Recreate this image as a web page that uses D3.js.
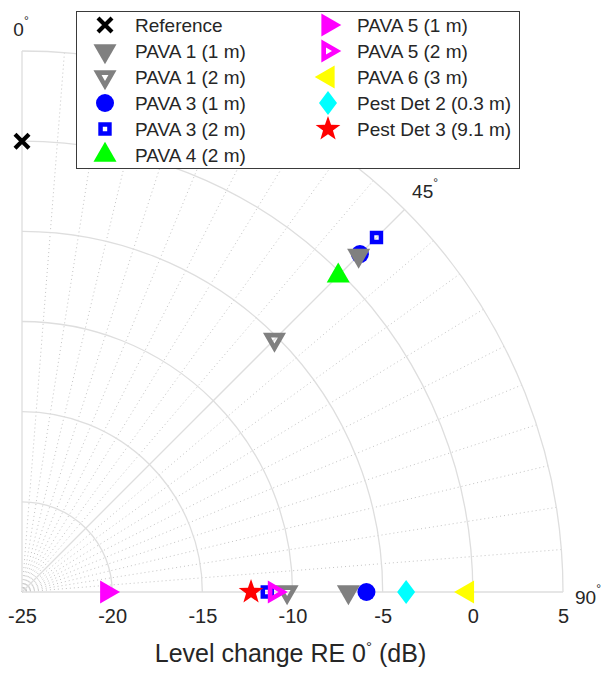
<!DOCTYPE html>
<html>
<head>
<meta charset="utf-8">
<script src="https://cdn.jsdelivr.net/npm/d3@7"></script>
<style>
  body { margin: 0; background: #fff; }
  svg { display: block; font-family: "Liberation Sans", Arial, sans-serif; }
</style>
</head>
<body>
<div id="wrapper"></div>
<script>
// series, in legend order
const seriesNames = ["Reference", "PAVA 1 (1 m)", "PAVA 1 (2 m)", "PAVA 3 (1 m)", "PAVA 3 (2 m)",
  "PAVA 4 (2 m)", "PAVA 5 (1 m)", "PAVA 5 (2 m)", "PAVA 6 (3 m)", "Pest Det 2 (0.3 m)", "Pest Det 3 (9.1 m)"]
// angle (deg) and level change (dB) for each series
const seriesAngles = [[0], [45, 90], [45, 90], [45, 90], [45, 90], [45], [90], [90], [90], [90], [90]]
const seriesLevels = [[0], [1.4, -6.9], [-5.2, -10.3], [1.5, -5.9], [2.8, -11.4], [-0.2], [-20.3], [-11.0], [-0.3], [-3.7], [-12.3]]
const seriesMarkers = ["x", "triDown", "triDownOpen", "circle", "squareOpen", "triUp", "triRight", "triRightOpen", "triLeft", "diamond", "star"]
const seriesColors = ["#000000", "#808080", "#808080", "#0000ff", "#0000ff", "#00ff00", "#ff00ff", "#ff00ff", "#ffff00", "#00ffff", "#ff0000"]

const radialTicks = [-25, -20, -15, -10, -5, 0, 5]
const angleTicks = [0, 45, 90]

const width = 603
const height = 675
const cx = 22
const cy = 592
const rMax = 541

const svg = d3.select("#wrapper").append("svg")
  .attr("width", width)
  .attr("height", height)

const rScale = d3.scaleLinear().domain([-25, 5]).range([0, rMax])
const aScale = d3.scaleLinear().domain([0, 90]).range([0, Math.PI / 2])
const xScale = d3.scaleLinear().domain([-25, 5]).range([cx, cx + rMax])

const polar = (deg, r) => [cx + r * Math.sin(aScale(deg)), cy - r * Math.cos(aScale(deg))]

const textColor = "#262626"
const gridColor = "#dedede"

// grid
const grid = svg.append("g")

// dotted spokes every 4.5 deg
const minorAngles = d3.range(0, 90.001, 4.5).filter(a => a % 45 !== 0)
grid.selectAll("line.minor")
  .data(minorAngles)
  .join("line")
  .attr("class", "minor")
  .attr("x1", cx).attr("y1", cy)
  .attr("x2", d => polar(d, rMax)[0])
  .attr("y2", d => polar(d, rMax)[1])
  .attr("stroke", "#c4c4c4")
  .attr("stroke-width", 1)
  .attr("stroke-dasharray", "1 3")

grid.selectAll("line.major")
  .data(angleTicks)
  .join("line")
  .attr("class", "major")
  .attr("x1", cx).attr("y1", cy)
  .attr("x2", d => polar(d, rMax)[0])
  .attr("y2", d => polar(d, rMax)[1])
  .attr("stroke", gridColor)
  .attr("stroke-width", 1.3)

grid.selectAll("path.ring")
  .data(radialTicks.slice(1))
  .join("path")
  .attr("class", "ring")
  .attr("d", d => {
    const p = d3.path()
    const r = rScale(d)
    p.moveTo(cx, cy - r)
    p.arc(cx, cy, r, -Math.PI / 2, 0)
    return p.toString()
  })
  .attr("fill", "none")
  .attr("stroke", gridColor)
  .attr("stroke-width", 1.3)

// angle labels
const angleLabelOffsets = { 0: [-1, 0], 45: [5, -3], 90: [3, 5] }
const angleLabels = svg.append("g")
  .selectAll("text")
  .data(angleTicks)
  .join("text")
  .attr("x", d => polar(d, rMax + 22)[0] + angleLabelOffsets[d][0])
  .attr("y", d => polar(d, rMax + 22)[1] + angleLabelOffsets[d][1])
  .attr("text-anchor", "middle")
  .attr("dominant-baseline", "central")
  .attr("fill", textColor)
  .style("font-size", "19px")
angleLabels.append("tspan").text(d => d)
angleLabels.append("tspan").text("°")
  .attr("dy", -8)
  .style("font-size", "12px")

// radial axis along the bottom
const xAxis = svg.append("g")
  .attr("transform", `translate(0, ${cy})`)
  .call(d3.axisBottom(xScale).tickValues(radialTicks).tickSize(0).tickPadding(17).tickFormat(d => String(d)))
xAxis.select(".domain").remove()
xAxis.selectAll("text")
  .attr("fill", textColor)
  .style("font-size", "20px")
  .style("font-family", "'Liberation Sans', Arial, sans-serif")

const axisLabel = svg.append("text")
  .attr("x", (cx + cx + rMax) / 2 - 2)
  .attr("y", 662)
  .attr("text-anchor", "middle")
  .attr("fill", textColor)
  .style("font-size", "25px")
axisLabel.append("tspan").text("Level change RE 0")
axisLabel.append("tspan").text("°").attr("dy", -10).style("font-size", "15px")
axisLabel.append("tspan").text(" (dB)").attr("dy", 10)

// marker shapes
const triPts = (R, rot) => d3.range(3).map(i => {
  const t = rot + i * 2 * Math.PI / 3
  return [R * Math.sin(t), -R * Math.cos(t)]
})
const poly = pts => "M" + pts.map(p => p[0].toFixed(2) + "," + p[1].toFixed(2)).join("L") + "Z"

const markerPath = type => {
  const R = 13.3
  switch (type) {
    case "x": return "M-7,-7L7,7M-7,7L7,-7"
    case "triDown": return poly(triPts(R, Math.PI))
    case "triDownOpen": return poly(triPts(R, Math.PI)) + poly(triPts(4, Math.PI))
    case "triUp": return poly(triPts(R, 0))
    case "triRight": return poly(triPts(R, Math.PI / 2))
    case "triRightOpen": return poly(triPts(R, Math.PI / 2)) + poly(triPts(4, Math.PI / 2))
    case "triLeft": return poly(triPts(R, -Math.PI / 2))
    case "circle": return "M9,0A9,9 0 1,1 -9,0A9,9 0 1,1 9,0Z"
    case "squareOpen": return "M-6.7,-6.7H6.7V6.7H-6.7Z M-2.2,-2.2H2.2V2.2H-2.2Z"
    case "diamond": return "M0,-12L9,0L0,12L-9,0Z"
    case "star": return poly(d3.range(10).map(i => {
      const r = i % 2 === 0 ? 13 : 5.2
      const t = i * Math.PI / 5
      return [r * Math.sin(t), -r * Math.cos(t)]
    }))
  }
}

const drawMarker = (sel, i) => {
  const type = seriesMarkers[i]
  if (type === "x") {
    sel.append("path").attr("d", markerPath(type))
      .attr("fill", "none").attr("stroke", seriesColors[i]).attr("stroke-width", 4.2)
  } else {
    sel.append("path").attr("d", markerPath(type))
      .attr("fill", seriesColors[i]).attr("fill-rule", "evenodd")
  }
}

// data points: 45 deg group is stacked in reverse order (as in the original figure)
const pointList = []
seriesNames.forEach((name, i) => {
  seriesAngles[i].forEach((a, j) => pointList.push({ i, a, v: seriesLevels[i][j] }))
})
const stackKey = p => p.a === 45 ? 100 - p.i : 200 + p.i
pointList.sort((p, q) => stackKey(p) - stackKey(q))

const points = svg.append("g")
pointList.forEach(p => {
  const [x, y] = polar(p.a, rScale(p.v))
  const g = points.append("g").attr("transform", `translate(${x}, ${y})`)
  drawMarker(g, p.i)
})

// legend
const legend = svg.append("g")
legend.append("rect")
  .attr("x", 76.5).attr("y", 11.5)
  .attr("width", 443).attr("height", 157)
  .attr("fill", "#fff")
  .attr("stroke", "#3a3a3a")
  .attr("stroke-width", 1)

const rowH = 26
seriesNames.forEach((name, i) => {
  const col = i < 6 ? 0 : 1
  const row = i < 6 ? i : i - 6
  const mx = col === 0 ? 105 : 328
  const tx = col === 0 ? 135 : 357
  const y = 25 + row * rowH
  const g = legend.append("g").attr("transform", `translate(${mx}, ${y})`)
  drawMarker(g, i)
  legend.append("text")
    .attr("x", tx).attr("y", y)
    .attr("dominant-baseline", "central")
    .attr("fill", textColor)
    .style("font-size", "19px")
    .text(name)
})
</script>
</body>
</html>
